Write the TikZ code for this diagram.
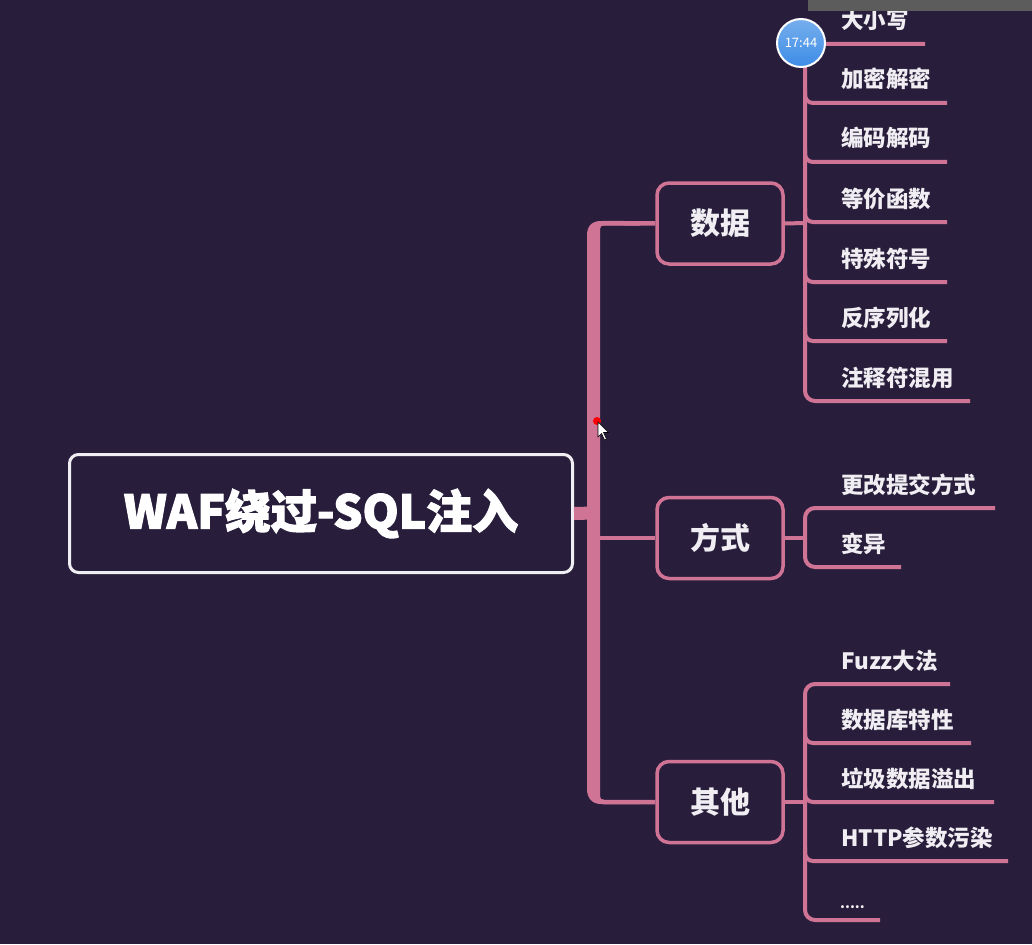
\documentclass[tikz,border=0pt]{standalone}
\usepackage{fontspec}
\setmainfont{Noto Sans CJK SC}
\newfontfamily\heavyfont{Noto Sans CJK SC}[BoldFeatures={FakeBold=2.5}]
\definecolor{bg}{RGB}{40,30,60}
\definecolor{pk}{RGB}{208,116,150}
\definecolor{tx}{RGB}{240,238,242}
\definecolor{bar}{RGB}{92,92,92}
\definecolor{clk}{RGB}{60,140,230}
\begin{document}
\begin{tikzpicture}[x=1pt,y=-1pt,
  cbox/.style={draw=pk, line width=3.5pt, rounded corners=12pt, fill=bg,
    minimum width=126pt, minimum height=81pt, text=tx,
    font=\fontsize{30}{30}\selectfont\bfseries},
  leaf/.style={anchor=base west, inner sep=0pt, text=tx,
    font=\fontsize{22.5}{22.5}\selectfont\bfseries},
  leafline/.style={draw=pk, line width=4pt},
  thin/.style={draw=pk, line width=4.5pt}]
\fill[bg] (0,0) rectangle (1032,944);
\useasboundingbox (0,0) rectangle (1032,944);

% root
\node[draw=tx, line width=3pt, rounded corners=9pt, fill=bg,
  minimum width=503pt, minimum height=118pt, text=white,
  font=\heavyfont\fontsize{46}{46}\selectfont\bfseries] (root) at (321,513.5) {WAF绕过-SQL注入};

% level-1 boxes
\node[cbox] (shuju) at (720,223.5) {数据};
\node[cbox] (fangshi) at (720,538) {方式};
\node[cbox] (qita) at (720,802) {其他};

% trunk
\coordinate (tTop) at (594,223);
\coordinate (tMid) at (594,538);
\coordinate (tRoot) at (594,513);
\coordinate (tBot) at (594,802);
\draw[thin, rounded corners=10pt] (shuju.west) -- (tTop) -- (tBot) -- (qita.west);
\fill[pk] (640,221) -- (601,221) .. controls (592,221) and (587,226) .. (587,235)
  -- (587,789) .. controls (587,798) and (592,804) .. (601,804) -- (640,804)
  -- (640,800) -- (604,800) .. controls (601.5,800) and (600,798.5) .. (600,796)
  -- (600,229) .. controls (600,226.5) and (601.5,225.5) .. (604,225.5) -- (640,225.5) -- cycle;
\draw[pk, line width=13pt] (root.east) -- (tRoot);
\draw[thin] (tMid) -- (fangshi.west);

% ---- 数据 leaves
\coordinate (dv) at (805,223);
\draw[leafline] (shuju.east) -- (dv);
\draw[leafline, rounded corners=10pt] (925,44) -- (805,44) -- (805,401) -- (970,401);
\foreach \y in {103,162,222,282,341}
  \draw[leafline, rounded corners=8pt] (805,\y-14) -- (805,\y) -- (947,\y);
\node[leaf] (a1) at (841,29) {大小写};
\node[leaf] (a2) at (841,88) {加密解密};
\node[leaf] (a3) at (841,147) {编码解码};
\node[leaf] (a4) at (841,207) {等价函数};
\node[leaf] (a5) at (841,267) {特殊符号};
\node[leaf] (a6) at (841,326) {反序列化};
\node[leaf] (a7) at (841,386) {注释符混用};

% ---- 方式 leaves
\coordinate (fv) at (805,538);
\draw[leafline] (fangshi.east) -- (fv);
\draw[leafline, rounded corners=10pt] (995,508) -- (805,508) -- (805,567) -- (901,567);
\node[leaf] (b1) at (841,493) {更改提交方式};
\node[leaf] (b2) at (841,552) {变异};

% ---- 其他 leaves
\coordinate (qv) at (805,802);
\draw[leafline] (qita.east) -- (qv);
\draw[leafline, rounded corners=10pt] (950,684) -- (805,684) -- (805,920) -- (880,920);
\draw[leafline, rounded corners=8pt] (805,729) -- (805,743) -- (971,743);
\draw[leafline, rounded corners=8pt] (805,788) -- (805,802) -- (994,802);
\draw[leafline, rounded corners=8pt] (805,847) -- (805,861) -- (1008,861);
\node[leaf] (c1) at (841,669) {Fuzz大法};
\node[leaf] (c2) at (841,728) {数据库特性};
\node[leaf] (c3) at (841,787) {垃圾数据溢出};
\node[leaf] (c4) at (841,846) {HTTP参数污染};
\node[leaf, font=\fontsize{14}{14}\selectfont\bfseries] (c5) at (840,908) {.....};

% ---- overlay: grey bar, clock, cursor
\fill[bar] (808,0) rectangle (1032,11);
\node[circle, draw=white, line width=2pt, top color=clk!70!white, bottom color=clk,
  minimum size=48pt, inner sep=0pt, text=white,
  font=\fontsize{13}{13}\selectfont] (clock) at (801,43) {17:44};
\fill[red] (597,421) circle (4pt);
\filldraw[fill=white, draw=black, line width=0.6pt]
  (598,422) -- (598,437) -- (601.5,433.5) -- (604.5,440) -- (606.5,439) -- (603.5,432.5) -- (608.5,432.5) -- cycle;
\end{tikzpicture}
\end{document}
